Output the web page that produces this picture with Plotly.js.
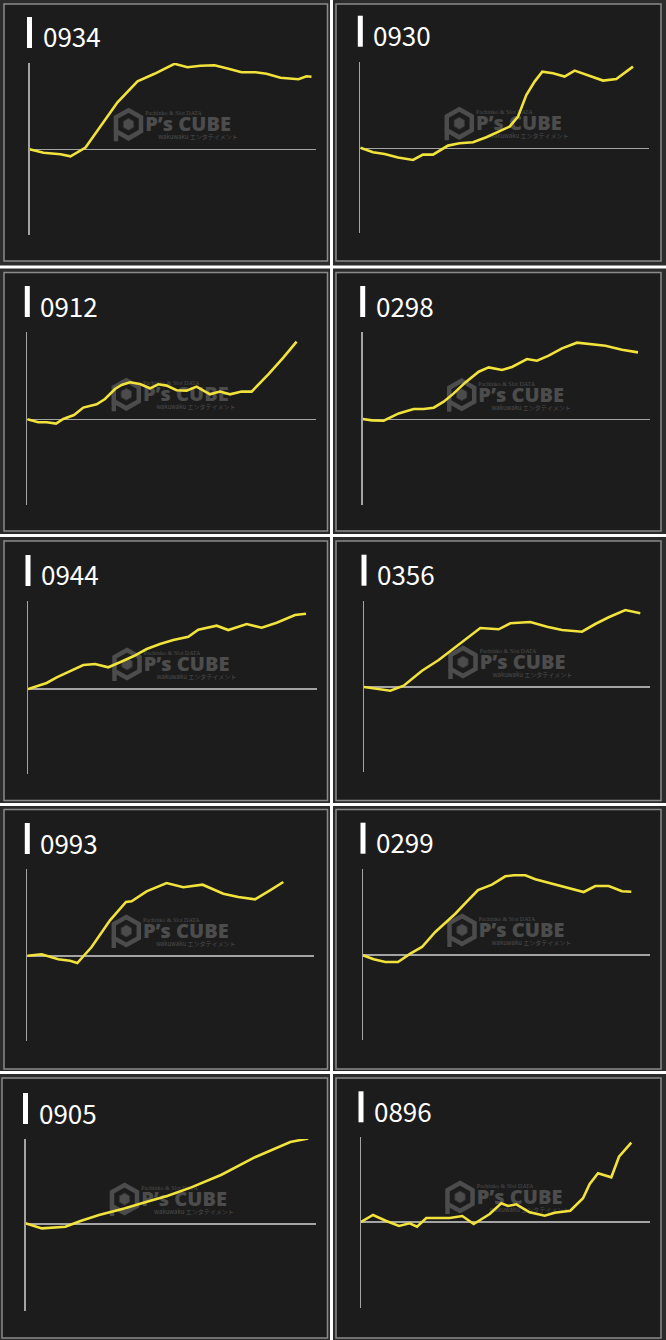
<!DOCTYPE html>
<html>
<head>
<meta charset="utf-8">
<script src="https://cdn.plot.ly/plotly-3.0.1.min.js"></script>
<style>html,body{margin:0;padding:0;background:#2b2b2b;}#chart{width:666px;height:1340px;}</style>
</head>
<body>
<div id="chart"></div>
<script>
// ---- data (x = progress along the run, y = difference) ----
const labels = ['0934','0930','0912','0298','0944','0356','0993','0299','0905','0896'];

const x_0934 = [0, 14, 31, 41, 56, 71, 88, 108, 125, 145, 158, 171, 185, 199, 212, 226, 237, 251, 269, 277, 282];
const y_0934 = [0, -3.4, -5, -7, 1.7, 23.5, 47, 68, 75.5, 85.5, 82, 83.5, 84, 80.5, 77, 77, 75.5, 71.5, 70, 73, 72.5];

const x_0930 = [0, 12.7, 24.3, 37.7, 52.7, 62.7, 72.7, 87.7, 99.3, 112.7, 126, 139.3, 149.3, 157.7, 166, 174.3, 182, 192.7, 204.3, 214.3, 229.3, 242.7, 256, 272.7];
const y_0930 = [0.5, -4, -5.7, -9.3, -11.7, -6.3, -6.3, 2.7, 5, 6, 11, 16.7, 21.7, 31.7, 53.3, 66.7, 76.7, 75, 71.7, 77.7, 72.3, 67.7, 69.3, 81.7];

const x_0912 = [0, 11, 19.3, 28.7, 36, 46.7, 56, 69.3, 77.7, 87.7, 94.3, 102.7, 112.7, 122.7, 131, 139.3, 149.3, 159.3, 169.3, 182.7, 192.7, 202.7, 214.3, 224.3, 241, 256, 269.3];
const y_0912 = [0, -3, -3, -4.3, 0.3, 4.3, 11.7, 15, 20.3, 30.3, 34.3, 37, 35.3, 31, 35, 33.7, 29, 28.7, 32.7, 25, 27.7, 25, 27.7, 27.7, 45, 61.7, 77.7];

const x_0298 = [0, 9.3, 21, 36, 51, 61, 71, 81, 91, 102.7, 116, 126, 139.3, 149.3, 164.3, 174.3, 186, 199.3, 214.3, 229.3, 242.7, 259.3, 275.3];
const y_0298 = [0.7, -0.7, -1, 6.3, 10.7, 10.7, 12, 18, 26.3, 37.3, 48, 52.3, 49.7, 52.7, 60.7, 59, 64, 71.3, 77, 75.3, 74, 70, 67.3];

const x_0944 = [0, 8.7, 18.7, 28.7, 42, 55.3, 67, 80.3, 92, 105.3, 118.7, 132, 145.3, 160.3, 170.3, 188.7, 200.3, 218.7, 233.7, 248.7, 267, 278];
const y_0944 = [0, 2.7, 6, 11.7, 17.7, 24, 25, 21.7, 26.7, 32.7, 40, 45, 49, 52.3, 59.3, 63.3, 59, 65, 61.3, 66.3, 74, 75.3];

const x_0356 = [0, 13, 26.3, 39.7, 58, 74.7, 91.3, 104.7, 116.3, 134.7, 146.3, 166.3, 183, 198, 218, 231.3, 244.7, 261.3, 276.3];
const y_0356 = [0, -2, -3.7, 1.3, 16.3, 27, 39.7, 49.7, 59, 57.7, 63.7, 65, 60.3, 57, 55.3, 63, 69.7, 77, 73.7];

const x_0993 = [0, 14.3, 31, 42.7, 50, 64.3, 82.7, 98.7, 104.3, 119.3, 139.3, 156, 175.3, 196, 211, 227.7, 242.7, 256];
const y_0993 = [0.3, 1.7, -3.3, -4.7, -7, 9, 35.7, 54, 54.7, 64.7, 73, 68.7, 71.3, 62.3, 59, 56.7, 65.7, 74];

const x_0299 = [0, 10.7, 22.3, 35, 47.3, 59, 72.3, 92.3, 104, 115, 129, 142.3, 150.7, 162.3, 172.3, 189, 205.7, 220.7, 232.3, 245.7, 259, 268.3];
const y_0299 = [-0.3, -4.3, -7, -7, 1.3, 8, 23, 41.3, 53.7, 65, 70.3, 78.7, 79.7, 79.7, 75.7, 71.3, 67, 63, 69, 69, 63.7, 63.3];

const x_0905 = [0, 16.4, 39.9, 55, 73.5, 98.7, 118.8, 142.3, 165.8, 196, 229.5, 264.8, 282.6];
const y_0905 = [0.7, -4.4, -2.7, 3, 9, 15.4, 21.5, 28.2, 36.6, 49.3, 66.8, 81.9, 85.6];

const x_0896 = [0, 12, 25.3, 38, 48.7, 56, 65.3, 88.7, 101.3, 112.7, 128.7, 140.3, 147, 155.3, 168.7, 183.7, 193.7, 209.3, 222, 228.7, 237, 250.3, 258, 270.3];
const y_0896 = [0, 7, 1, -4, -1.3, -4.7, 4, 4, 6, -2, 8, 18.7, 16, 17.7, 9.7, 6.3, 9.3, 11.3, 23.7, 38, 48.7, 44.7, 65.3, 79.3];

const seriesX = [x_0934, x_0930, x_0912, x_0298, x_0944, x_0356, x_0993, x_0299, x_0905, x_0896];
const seriesY = [y_0934, y_0930, y_0912, y_0298, y_0944, y_0356, y_0993, y_0299, y_0905, y_0896];

// ---- layout geometry (page pixels) ----
const W = 666, H = 1340;
const PX = v => v / W;
const PY = v => 1 - v / H;
// axis x, zero line y, axis top, axis bottom, zero line end
const geom = [
  {ax: 29.5, z: 149.3, t: 63, b: 235, e: 316},
  {ax: 360.3, z: 148.3, t: 61.7, b: 233, e: 649},
  {ax: 27.3, z: 419.3, t: 332, b: 505, e: 315.7},
  {ax: 362.7, z: 419.7, t: 332, b: 505, e: 649.7},
  {ax: 28, z: 689, t: 601, b: 774, e: 316.7},
  {ax: 364, z: 687, t: 600.7, b: 772.3, e: 650},
  {ax: 27.3, z: 956, t: 869, b: 1041, e: 314},
  {ax: 363, z: 955, t: 868.7, b: 1040.3, e: 649.7},
  {ax: 25.5, z: 1224, t: 1139, b: 1311, e: 316.4},
  {ax: 361, z: 1222, t: 1137.3, b: 1308.3, e: 650}
];
const rowsBox = [[4, 261], [272.5, 531], [541, 800.5], [809.5, 1069], [1078, 1338]];
const colsBox = [[4, 327.5], [336, 661]];
const hSeps = [265.5, 534, 803, 1071];

const LINE_COLOR = '#f1e23c';
const AXIS_COLOR = '#a4a4a4';
const WM_COLOR = '#4c4c4c';

const traces = [];
const shapes = [];
const annotations = [];
const layout = {
  width: W, height: H,
  margin: {l: 0, r: 0, t: 0, b: 0, pad: 0},
  paper_bgcolor: '#2b2b2b',
  plot_bgcolor: 'rgba(0,0,0,0)',
  showlegend: false,
  shapes: shapes,
  annotations: annotations
};

// panel boxes
for (let r = 0; r < 5; r++) {
  for (let c = 0; c < 2; c++) {
    const left = (r === 4 && c === 0) ? 2 : colsBox[c][0];
    shapes.push({type: 'rect', xref: 'paper', yref: 'paper', layer: 'below',
      x0: PX(left), x1: PX(colsBox[c][1]), y0: PY(rowsBox[r][1]), y1: PY(rowsBox[r][0]),
      fillcolor: '#1c1c1c', line: {color: '#8a8a8a', width: 1.5}});
  }
}
// white separators
hSeps.forEach(y => shapes.push({type: 'rect', xref: 'paper', yref: 'paper', layer: 'above',
  x0: 0, x1: 1, y0: PY(y + 3), y1: PY(y), fillcolor: '#ffffff', line: {width: 0}}));
shapes.push({type: 'rect', xref: 'paper', yref: 'paper', layer: 'above',
  x0: PX(330), x1: PX(333), y0: 0, y1: 1, fillcolor: '#ffffff', line: {width: 0}});

function pathOf(pts) {
  return 'M' + pts.map(p => PX(p[0]) + ',' + PY(p[1])).join(' L') + ' Z';
}

geom.forEach((g, i) => {
  const n = i + 1;
  const xa = 'xaxis' + (n === 1 ? '' : n);
  const ya = 'yaxis' + (n === 1 ? '' : n);
  layout[xa] = {domain: [PX(g.ax), PX(g.e)], range: [0, g.e - g.ax], anchor: 'y' + n,
    showgrid: false, zeroline: false, showline: false, showticklabels: false, ticks: '', fixedrange: true};
  layout[ya] = {domain: [PY(g.b), PY(g.t)], range: [-(g.b - g.z), g.z - g.t], anchor: 'x' + n,
    showgrid: false, showticklabels: false, ticks: '', fixedrange: true,
    showline: true, linecolor: AXIS_COLOR, linewidth: 1.5,
    zeroline: true, zerolinecolor: AXIS_COLOR, zerolinewidth: 1.5};

  traces.push({type: 'scatter', mode: 'lines', x: seriesX[i], y: seriesY[i],
    xaxis: 'x' + n, yaxis: 'y' + n, line: {color: LINE_COLOR, width: 2.6}, hoverinfo: 'skip'});

  // label bar + text
  shapes.push({type: 'rect', xref: 'paper', yref: 'paper', layer: 'above',
    x0: PX(g.ax - 2.5), x1: PX(g.ax + 2.5), y0: PY(g.t - 15), y1: PY(g.t - 46),
    fillcolor: '#ffffff', line: {width: 0}});
  annotations.push({xref: 'paper', yref: 'paper', x: PX(g.ax + 11), y: PY(g.t - 27),
    xanchor: 'left', yanchor: 'middle', showarrow: false, text: labels[i],
    font: {family: 'Noto Sans CJK JP, Noto Sans, sans-serif', size: 26, color: '#ffffff'}});

  // watermark icon (hexagon)
  const cx = g.ax + 99, cy = g.z - 25;
  const hx = 12.5, hy = 14;
  shapes.push({type: 'path', xref: 'paper', yref: 'paper', layer: 'below',
    path: pathOf([[cx, cy - hy], [cx + hx, cy - hy / 2], [cx + hx, cy + hy / 2], [cx, cy + hy],
                  [cx - hx, cy + hy / 2], [cx - hx, cy - hy / 2]]),
    line: {color: WM_COLOR, width: 4.5}, fillcolor: 'rgba(0,0,0,0)'});
  shapes.push({type: 'rect', xref: 'paper', yref: 'paper', layer: 'below',
    x0: PX(cx - hx - 2.2), x1: PX(cx - hx + 2.2), y0: PY(cy + hy + 3), y1: PY(cy + hy / 2),
    fillcolor: WM_COLOR, line: {width: 0}});
  const s = 6;
  shapes.push({type: 'path', xref: 'paper', yref: 'paper', layer: 'below',
    path: pathOf([[cx, cy - s], [cx + s * 0.87, cy - s / 2], [cx + s * 0.87, cy + s / 2], [cx, cy + s],
                  [cx - s * 0.87, cy + s / 2], [cx - s * 0.87, cy - s / 2]]),
    line: {color: '#333333', width: 1}, fillcolor: WM_COLOR});

  // watermark texts (shape labels so they stay under the line)
  const wmText = (x, y, w, h, text, size, family, weight) => shapes.push({
    type: 'rect', xref: 'paper', yref: 'paper', layer: 'below',
    x0: PX(x - w / 2), x1: PX(x + w / 2), y0: PY(y + h / 2), y1: PY(y - h / 2),
    line: {width: 0}, fillcolor: 'rgba(0,0,0,0)',
    label: {text: text, textposition: 'middle center', padding: 0,
      font: {family: family, size: size, color: WM_COLOR, weight: weight}}});
  wmText(g.ax + 158.5, g.z - 24.5, 90, 22, 'P’s CUBE', 20, 'Open Sans, sans-serif', 800);
  wmText(g.ax + 144, g.z - 37, 60, 8, 'Pachinko &amp; Slot DATA', 6, 'Liberation Serif, serif', 400);
  wmText(g.ax + 168.5, g.z - 11.7, 60, 8, 'wakuwaku エンタテイメント', 6, 'Noto Sans CJK JP, sans-serif', 400);
});

Plotly.newPlot('chart', traces, layout, {staticPlot: true, displayModeBar: false});
</script>
</body>
</html>
